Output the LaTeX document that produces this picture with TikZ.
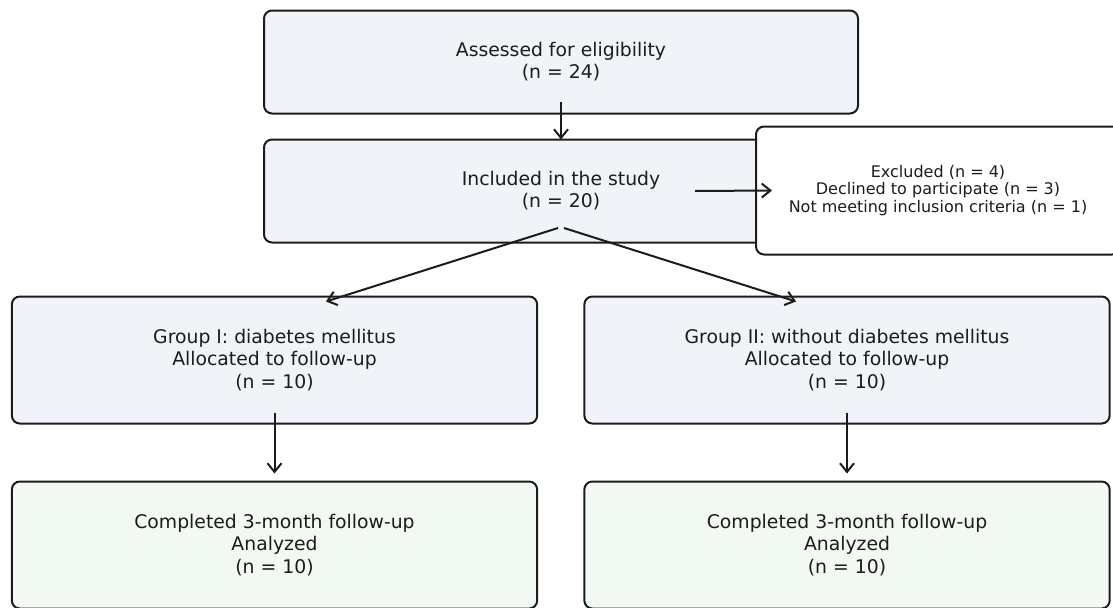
\documentclass[tikz,border=0pt]{standalone}
\usepackage{fontspec}
\setmainfont{DejaVu Sans}
\usetikzlibrary{arrows.meta,calc}
\definecolor{boxblue}{RGB}{240,244,248}
\definecolor{boxgreen}{RGB}{242,248,242}
\definecolor{edgecol}{RGB}{28,28,28}
\begin{document}
\begin{tikzpicture}[x=0.75pt,y=-0.75pt,
  box/.style={draw=edgecol, line width=1.5pt, rounded corners=6pt, fill=boxblue,
    align=center, inner sep=0pt, text=edgecol,
    font=\fontsize{14.1}{16.6}\selectfont},
  widebox/.style={box, minimum width=445.5pt, minimum height=77.25pt},
  groupbox/.style={box, minimum width=394pt, minimum height=95.25pt},
  donebox/.style={groupbox, fill=boxgreen},
  exclbox/.style={box, fill=white, minimum width=273pt, minimum height=96pt,
    font=\fontsize{12}{13.1}\selectfont},
  arr/.style={draw=edgecol, line width=1.5pt, -{Straight Barb[length=6.5pt,width=10.5pt,line width=1.5pt]}}
]
\useasboundingbox (0,0) rectangle (1113,607);
\clip (0,0) rectangle (1113,607);

\node[widebox] (assess) at (561,62) {Assessed for eligibility\\(n = 24)};
\node[widebox] (incl) at (561,191) {Included in the study\\(n = 20)};
\node[exclbox] (excl) at (938,190.5) {Excluded (n = 4)\\Declined to participate (n = 3)\\Not meeting inclusion criteria (n = 1)};
\node[groupbox] (g1) at (274.5,360) {Group I: diabetes mellitus\\Allocated to follow-up\\(n = 10)};
\node[groupbox] (g2) at (847,360) {Group II: without diabetes mellitus\\Allocated to follow-up\\(n = 10)};
\node[donebox] (c1) at (274.5,545) {Completed 3-month follow-up\\Analyzed\\(n = 10)};
\node[donebox] (c2) at (847,545) {Completed 3-month follow-up\\Analyzed\\(n = 10)};

\draw[arr] ($(assess.south)+(0,-13)$) -- ($(incl.north)+(0,1)$);
\draw[arr] ($(incl.center)+(134,0)$) -- ($(excl.west)+(17,0)$);
\draw[arr] ($(incl.center)+(-3,37)$) -- ($(g1.north)+(51.5,6)$);
\draw[arr] ($(incl.center)+(3,37)$) -- ($(g2.north)+(-51,6)$);
\draw[arr] ($(g1.south)+(0,-12)$) -- ($(c1.north)+(0,-7)$);
\draw[arr] ($(g2.south)+(0,-12)$) -- ($(c2.north)+(0,-7)$);
\end{tikzpicture}
\end{document}
